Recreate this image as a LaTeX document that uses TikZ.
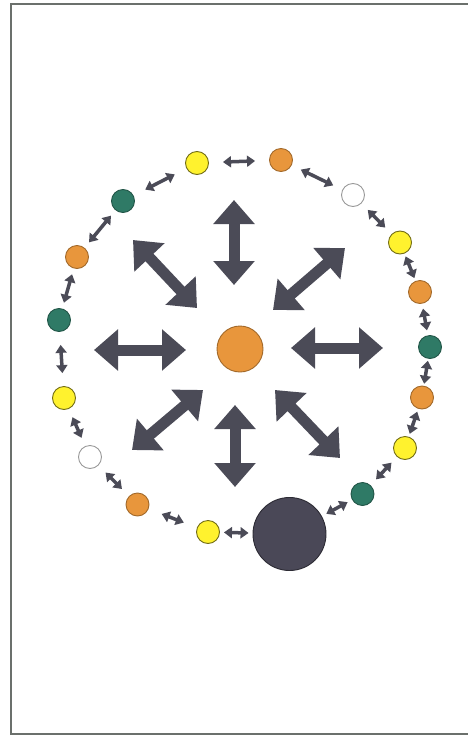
\documentclass[tikz,border=0pt]{standalone}
\usepackage{tikz}
\usetikzlibrary{arrows.meta}

\definecolor{amarillo}{HTML}{FFF22E}
\definecolor{naranja}{HTML}{E8963C}
\definecolor{verde}{HTML}{2F7A66}
\definecolor{oscuro}{HTML}{4A4857}
\definecolor{flecha}{HTML}{4B4B57}
\definecolor{marco}{HTML}{6B706C}

\begin{document}
\begin{tikzpicture}[x=1pt,y=-1pt,
  bola/.style={circle,draw,line width=0.9pt,inner sep=0pt,minimum size=23pt},
  am/.style={bola,fill=amarillo,draw=amarillo!45!black},
  na/.style={bola,fill=naranja,draw=naranja!70!black},
  ve/.style={bola,fill=verde,draw=verde!70!black},
  bl/.style={bola,fill=white,draw=gray!80},
  gr/.style={bola,fill=oscuro,draw=oscuro!60!black,minimum size=73pt},
  enlace/.style={flecha,line width=3.5pt,{Triangle[width=11pt,length=8pt]}-{Triangle[width=11pt,length=8pt]}},
  gruesa/.style={flecha,line width=11pt,{Triangle[width=40pt,length=24pt]}-{Triangle[width=40pt,length=24pt]}}]
  \useasboundingbox (0,0) rectangle (468,736);
  % marco
  \draw[marco,line width=2pt] (470,4)--(11,4)--(11,734)--(470,734);
  % bola central
  \node[bola,fill=naranja,draw=naranja!70!black,minimum size=46pt] (centro) at (240,349) {};
  % anillo de bolas
  \foreach \n/\s/\x/\y in {1/am/197/163, 2/na/281/160, 3/bl/353/195, 4/am/400/242.5,
      5/na/420/292, 6/ve/430/347, 7/na/422/397.5, 8/am/405/448, 9/ve/362.5/494,
      10/gr/289.5/534, 11/am/208/532, 12/na/137.5/504.5, 13/bl/90/457, 14/am/64/398,
      15/ve/59/320, 16/na/77/257, 17/ve/123/201}
     \node[\s] (p\n) at (\x,\y) {};
  % enlaces entre vecinas
  \foreach \a/\b/\g in {1/2/14pt, 2/3/10pt, 3/4/9pt, 4/5/3pt, 5/6/5pt, 6/7/2pt, 7/8/3pt,
      8/9/8pt, 9/10/5pt, 10/11/4pt, 11/12/14pt, 12/13/10pt, 13/14/9pt, 14/15/13pt,
      15/16/6pt, 16/17/7pt, 17/1/13pt}
     \draw[enlace,shorten <=\g,shorten >=\g] (p\a)--(p\b);
  % flechas gruesas alrededor del centro
  \foreach \xa/\ya/\xb/\yb in {234/200/234/285, 133/240/197/308, 345/248/273/310,
      94/350/186/350, 291/348/383/348, 203/390/132/450, 235/405/235/487, 275/390/340/458}
     \draw[gruesa] (\xa,\ya)--(\xb,\yb);
\end{tikzpicture}
\end{document}
